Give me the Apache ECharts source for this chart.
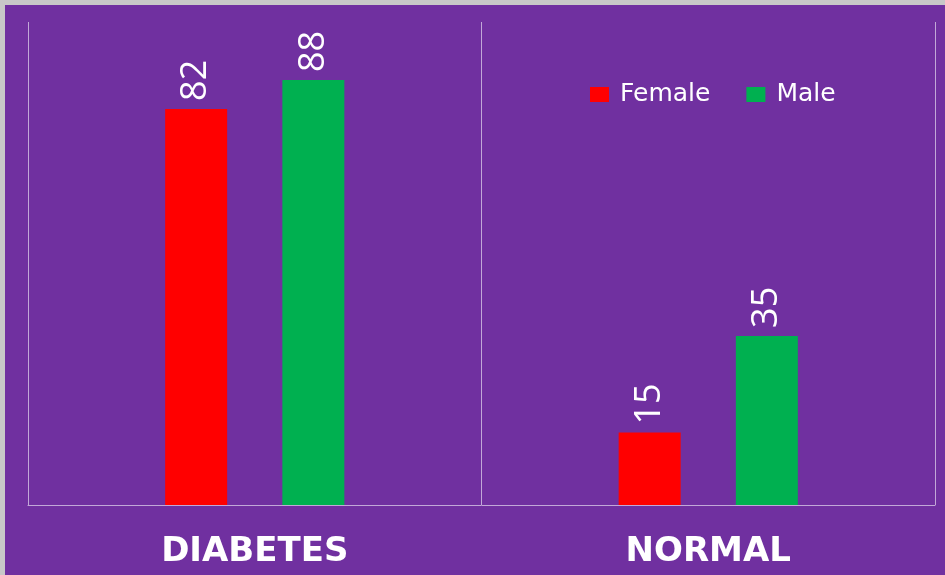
<!DOCTYPE html>
<html>
<head>
<meta charset="utf-8">
<script src="https://cdn.jsdelivr.net/npm/echarts@6/dist/echarts.min.js"></script>
<style>
  html, body { margin: 0; padding: 0; background: #c8c8c8; }
  #chart { position: absolute; left: 5px; top: 5px; width: 940px; height: 570px; }
</style>
</head>
<body>
<div id="chart"></div>
<script>
// chart data
const categories = ['DIABETES', 'NORMAL'];
const femaleValues = [82, 15];
const maleValues = [88, 35];

const chart = echarts.init(document.getElementById('chart'));

const labelStyle = {
  show: true,
  position: 'top',
  rotate: 90,
  align: 'left',
  verticalAlign: 'middle',
  distance: 8,
  color: '#ffffff',
  fontFamily: '"Liberation Sans Narrow", "Open Sans", sans-serif',
  fontSize: 36,
};

const option = {
  backgroundColor: '#7030A0',
  animation: false,
  legend: {
    data: ['Female', 'Male'],
    left: 580,
    top: 72,
    itemWidth: 19,
    itemHeight: 15,
    itemGap: 36,
    icon: 'rect',
    textStyle: {
      color: '#ffffff',
      fontSize: 25,
      fontFamily: '"DejaVu Sans", sans-serif',
      padding: [0, 0, 0, 6],
    },
  },
  grid: { left: 23, right: 10, top: 17, bottom: 70 },
  xAxis: {
    type: 'category',
    data: categories,
    axisLine: { lineStyle: { color: '#c2a8d8', width: 1 } },
    axisTick: { show: false },
    splitLine: { show: true, lineStyle: { color: '#c2a8d8', width: 1 } },
    axisLabel: {
      color: '#ffffff',
      fontSize: 34,
      fontWeight: 'bold',
      fontFamily: '"DejaVu Sans", sans-serif',
      margin: 30,
    },
  },
  yAxis: {
    type: 'value',
    min: 0,
    max: 100,
    show: false,
    splitLine: { show: false },
  },
  series: [
    {
      name: 'Female',
      type: 'bar',
      data: femaleValues,
      barWidth: 62,
      barGap: '89%',
      itemStyle: { color: '#FF0000' },
      label: labelStyle,
    },
    {
      name: 'Male',
      type: 'bar',
      data: maleValues,
      barWidth: 62,
      itemStyle: { color: '#00B050' },
      label: labelStyle,
    },
  ],
};

chart.setOption(option);
</script>
</body>
</html>
